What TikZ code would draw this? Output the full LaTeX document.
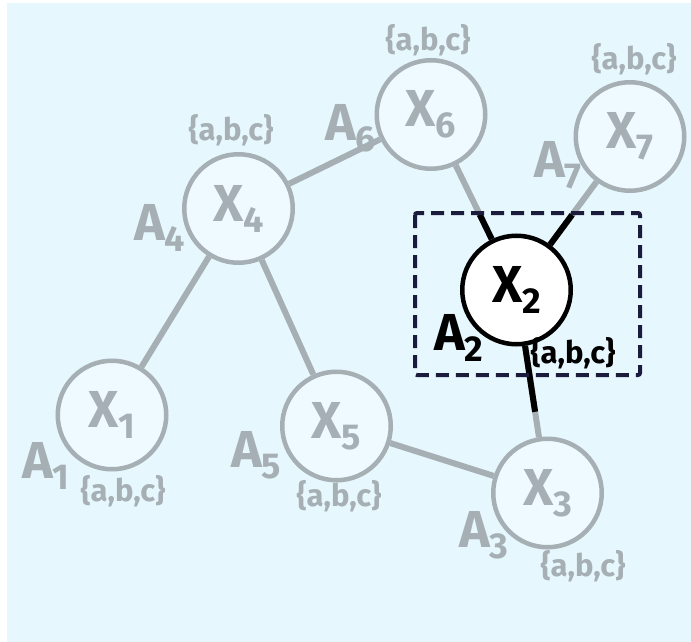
\documentclass[tikz,border=0pt]{standalone}
\usepackage{fontspec}
\setmainfont{Fira Sans}
\usetikzlibrary{calc, backgrounds}
\definecolor{skybg}{RGB}{230,247,254}
\definecolor{nodefill}{RGB}{238,250,255}
\definecolor{fadegray}{RGB}{165,175,180}
\definecolor{boxnavy}{RGB}{27,27,59}
\newcommand\lowsub[1]{\raisebox{-11pt}{\fontsize{36}{36}\selectfont #1}}

\begin{document}
\begin{tikzpicture}[x=1pt, y=-1pt,
    var/.style={circle, draw=fadegray, fill=nodefill, line width=4.5pt, minimum size=108.5pt, inner sep=0pt, text=fadegray, font=\fontsize{52}{52}\selectfont\bfseries},
    active/.style={var, draw=black, fill=white, text=black},
    alabel/.style={anchor=base west, inner sep=0pt, text=fadegray, font=\fontsize{52}{52}\selectfont\bfseries},
    setlabel/.style={inner sep=0pt, text=fadegray, font=\fontsize{31}{31}\selectfont\bfseries},
    link/.style={draw=fadegray, line width=6pt},
    hot/.style={draw=black, line width=6pt}]
                \useasboundingbox (0,0) rectangle (691,642);
                \node[var] (x1) at (112,415) {X\lowsub{1}};
                \node[var] (x4) at (238.5,208.5) {X\lowsub{4}};
                \node[var] (x6) at (431,114.5) {X\lowsub{6}};
                \node[var] (x7) at (630,136.5) {X\lowsub{7}};
                \node[active] (x2) at (516.5,290) {X\lowsub{2}};
                \node[var] (x5) at (336.5,426) {X\lowsub{5}};
                \node[var] (x3) at (547.5,493) {X\lowsub{3}};
                \begin{scope}[on background layer]
                    \fill[skybg] (7,3) rectangle (691,642);
                    \draw[link] (x4) -- (x1);
                    \draw[link] (x4) -- (x5);
                    \draw[link] (x4) -- (x6);
                    \draw[link] (x5) -- (x3);
                    \draw[link] (x6) -- (x2);
                    \draw[link] (x7) -- (x2);
                    \draw[link] (x2) -- (x3);
                    \draw[hot] ($(x6)!0.57!(x2)$) -- (x2);
                    \draw[hot] ($(x7)!0.51!(x2)$) -- (x2);
                    \draw[hot] (x2) -- ($(x2)!0.6!(x3)$);
                \end{scope}
                \node[alabel] (a1) at (22,478) {A\lowsub{1}};
                \node[alabel] (a4) at (134,240) {A\lowsub{4}};
                \node[alabel] (a6) at (325,140) {A\lowsub{6}};
                \node[alabel] (a7) at (534,177) {A\lowsub{7}};
                \node[alabel, text=black] (a2) at (434,350) {A\lowsub{2}};
                \node[alabel] (a5) at (231,467) {A\lowsub{5}};
                \node[alabel] (a3) at (459,547) {A\lowsub{3}};
                \node[setlabel] (s1) at (123,491) {\{a,b,c\}};
                \node[setlabel] (s4) at (231,130) {\{a,b,c\}};
                \node[setlabel] (s6) at (428,40) {\{a,b,c\}};
                \node[setlabel] (s7) at (634,59) {\{a,b,c\}};
                \node[setlabel, text=black] (s2) at (573,353) {\{a,b,c\}};
                \node[setlabel] (s5) at (339,496) {\{a,b,c\}};
                \node[setlabel] (s3) at (583,566) {\{a,b,c\}};
                \draw[boxnavy, line width=4pt, dash pattern=on 13pt off 7pt, rounded corners=2pt] (415,213) rectangle (640,375);
            \end{tikzpicture}
\end{document}
